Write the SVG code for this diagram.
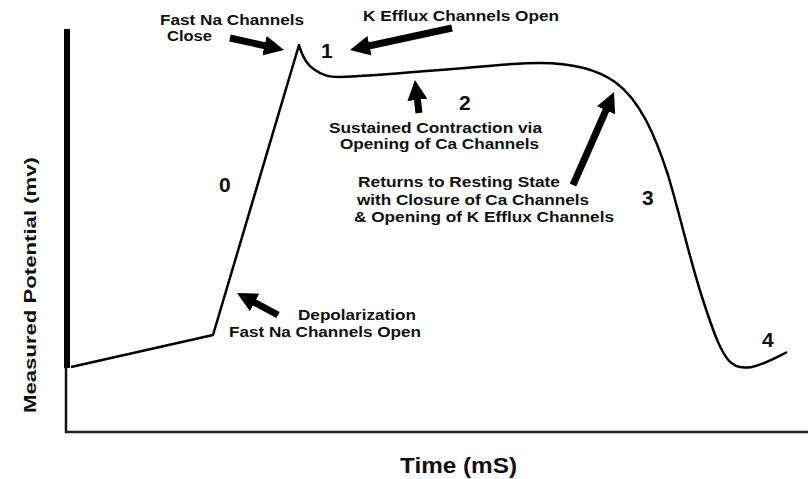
<svg xmlns="http://www.w3.org/2000/svg" width="808" height="479" viewBox="0 0 808 479">
<style>
text{font-family:"Liberation Sans",Arial,sans-serif;font-weight:bold;fill:#111}
.lbl{font-size:15px}
.sm{font-size:14px}
.num{font-size:21px}
.arr{stroke:#000;stroke-width:7;fill:none;marker-end:url(#ah)}
</style>
<defs>
<marker id="ah" viewBox="0 0 20 20" refX="8" refY="10" markerWidth="20" markerHeight="20" markerUnits="userSpaceOnUse" orient="auto">
<path d="M0,0 L20,10 L0,20 z" fill="#000"/>
</marker>
</defs>
<rect width="808" height="479" fill="#fff"/>
<g id="axes">
<line x1="67" y1="29" x2="67" y2="368" stroke="#000" stroke-width="6"/>
<line x1="66" y1="366" x2="66" y2="433" stroke="#111" stroke-width="2.5"/>
<line x1="65" y1="432" x2="808" y2="432" stroke="#222" stroke-width="2.5"/>
<text id="ylabel" font-size="17" transform="translate(36,413) rotate(-90)" textLength="256" lengthAdjust="spacingAndGlyphs">Measured Potential (mv)</text>
<text id="xlabel" x="400" y="473" font-size="22" textLength="117" lengthAdjust="spacingAndGlyphs">Time (mS)</text>
</g>
<g id="curve">
<path d="M71,367 L213,335 L299,45 C301,52 306,65 315,70 C322,75 328,77 340,77 C370,76 400,73 440,70 C480,67 510,63 540,63 C570,63 595,68 615,82 C640,100 655,135 668,175 C680,215 690,260 702,297 C712,328 722,358 733,364 C738,368 745,368 752,367 C765,364 777,357 787,352" fill="none" stroke="#000" stroke-width="2.5" stroke-linejoin="round"/>
</g>
<g id="connectors">
<line class="arr" x1="230" y1="38" x2="272.3" y2="47.4"/>
<line class="arr" x1="452" y1="28" x2="361.7" y2="47.5"/>
<line class="arr" x1="419" y1="113" x2="416.4" y2="91.9"/>
<line class="arr" x1="573" y1="185" x2="609.2" y2="103"/>
<line class="arr" x1="278" y1="315" x2="247.6" y2="298.7"/>
</g>
<g id="phase0"><text class="num" x="219" y="192">0</text></g>
<g id="phase1"><text class="num" x="321" y="58">1</text></g>
<g id="phase2"><text class="num" x="459" y="110">2</text></g>
<g id="phase3"><text class="num" x="642" y="205">3</text></g>
<g id="phase4"><text class="num" x="762" y="347">4</text></g>
<g id="note-na-close">
<text class="sm" x="160" y="25" textLength="144" lengthAdjust="spacingAndGlyphs">Fast Na Channels</text>
<text class="sm" x="167" y="41" textLength="45" lengthAdjust="spacingAndGlyphs">Close</text>
</g>
<g id="note-k-open">
<text class="lbl" x="363" y="21" textLength="196" lengthAdjust="spacingAndGlyphs">K Efflux Channels Open</text>
</g>
<g id="note-ca">
<text class="lbl" x="329" y="133" textLength="213" lengthAdjust="spacingAndGlyphs">Sustained Contraction via</text>
<text class="lbl" x="340" y="149" textLength="199" lengthAdjust="spacingAndGlyphs">Opening of Ca Channels</text>
</g>
<g id="note-rest">
<text class="lbl" x="358" y="187" textLength="202" lengthAdjust="spacingAndGlyphs">Returns to Resting State</text>
<text class="lbl" x="357" y="205" textLength="232" lengthAdjust="spacingAndGlyphs">with Closure of Ca Channels</text>
<text class="lbl" x="354" y="222" textLength="260" lengthAdjust="spacingAndGlyphs">&amp; Opening of K Efflux Channels</text>
</g>
<g id="note-depol">
<text class="lbl" x="298" y="320" textLength="118" lengthAdjust="spacingAndGlyphs">Depolarization</text>
<text class="lbl" x="229" y="337" textLength="192" lengthAdjust="spacingAndGlyphs">Fast Na Channels Open</text>
</g>
</svg>
